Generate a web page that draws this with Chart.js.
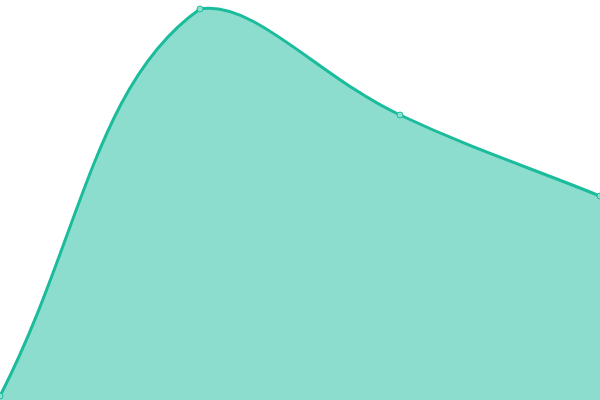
<!DOCTYPE html>
<html>
<head>
<meta charset="utf-8">
<script src="https://cdn.jsdelivr.net/npm/chart.js@4/dist/chart.umd.min.js"></script>
<style>
  html, body { margin: 0; padding: 0; background: #fff; }
  #wrap { width: 600px; height: 400px; }
</style>
</head>
<body>
<div id="wrap"><canvas id="areaChart"></canvas></div>
<script>
const labels = ["A", "B", "C", "D"];
const values = [1, 97.75, 71.25, 51];

const ctx = document.getElementById("areaChart");

new Chart(ctx, {
  type: "line",
  data: {
    labels: labels,
    datasets: [
      {
        data: values,
        borderColor: "#1abc9c",
        backgroundColor: "rgba(26,188,156,0.5)",
        pointBackgroundColor: "#8cdecd",
        pointBorderColor: "#1abc9c",
        pointRadius: 3,
        pointBorderWidth: 1,
        borderWidth: 3,
        fill: "origin",
        tension: 0.4,
        clip: false
      }
    ]
  },
  options: {
    responsive: true,
    maintainAspectRatio: false,
    animation: false,
    layout: { padding: 0, autoPadding: false },
    plugins: {
      legend: { display: false },
      tooltip: { enabled: false }
    },
    scales: {
      x: { display: false, offset: false },
      y: { display: false, min: 0, max: 100 }
    }
  }
});
</script>
</body>
</html>
